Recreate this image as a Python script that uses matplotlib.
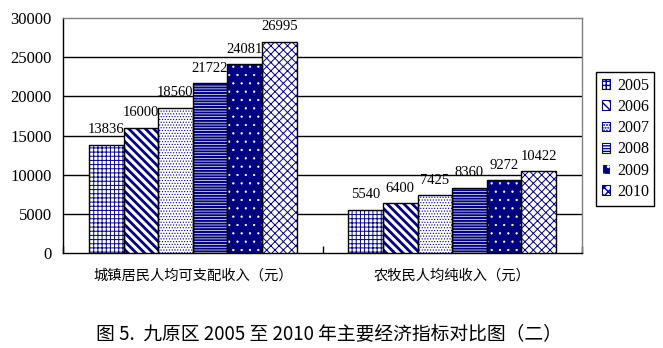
import matplotlib
matplotlib.use("Agg")
import matplotlib.pyplot as plt
from matplotlib.patches import Patch
import numpy as np

categories = ["城镇居民人均可支配收入（元）", "农牧民人均纯收入（元）"]
years = ["2005", "2006", "2007", "2008", "2009", "2010"]
values = {
    "2005": [13836, 5540],
    "2006": [16000, 6400],
    "2007": [18560, 7425],
    "2008": [21722, 8360],
    "2009": [24081, 9272],
    "2010": [26995, 10422],
}
yticks = [0, 5000, 10000, 15000, 20000, 25000, 30000]
title = "图 5.  九原区 2005 至 2010 年主要经济指标对比图（二）"

NAVY = "#000080"
styles = {
    "2005": dict(fc="white", hc=NAVY, hatch="++++", hlw=0.7),
    "2006": dict(fc="white", hc=NAVY, hatch="\\\\\\\\", hlw=2.0),
    "2007": dict(fc="white", hc=NAVY, hatch="......", hlw=0.5),
    "2008": dict(fc="white", hc=NAVY, hatch="------", hlw=1.5),
    "2009": dict(fc=NAVY, hc="white", hatch="..", hlw=0.4),
    "2010": dict(fc="white", hc=NAVY, hatch="xxxx", hlw=0.7),
}

serif = ["Liberation Serif", "DejaVu Serif"]
cjk = ["Noto Sans CJK SC", "DejaVu Sans"]

fig = plt.figure(figsize=(6.63, 3.48), dpi=100)
ax = fig.add_axes([63/663, 1-253/348, (582-63)/663, (253-18)/348])

x = np.arange(len(categories))
n = len(years)
group_w = 0.8
w = group_w / n
handles = []
for i, yr in enumerate(years):
    st = styles[yr]
    pos = x - group_w/2 + w*(i+0.5)
    with plt.rc_context({"hatch.linewidth": st["hlw"]}):
        bars = ax.bar(pos, values[yr], w, facecolor=st["fc"], edgecolor=st["hc"],
                      hatch=st["hatch"], linewidth=0, zorder=3)
        for b in bars:
            if hasattr(b, "set_hatch_linewidth"):
                b.set_hatch_linewidth(st["hlw"])
        ax.bar(pos, values[yr], w, fill=False, edgecolor="black", linewidth=1.0, zorder=4)
        h = Patch(facecolor=st["fc"], edgecolor=st["hc"], hatch=st["hatch"], linewidth=0.8)
        if hasattr(h, "set_hatch_linewidth"):
            h.set_hatch_linewidth(st["hlw"])
    handles.append(h)
    for xp, v in zip(pos, values[yr]):
        ax.annotate(str(v), (xp, v), xytext=(0, 6), textcoords="offset points",
                    ha="center", va="bottom", fontsize=10.5, family=serif,
                    annotation_clip=False)

ax.set_xlim(-0.5, len(categories) - 0.5)
ax.set_ylim(0, 30000)
ax.set_yticks(yticks)
ax.set_yticklabels([str(t) for t in yticks], family=serif, fontsize=12)
ax.yaxis.grid(True, color="black", linewidth=1.0, zorder=0)
gl = ax.yaxis.get_gridlines()
gl[0].set_visible(False)
gl[-1].set_visible(False)
ax.set_axisbelow(True)
ax.tick_params(axis="y", direction="in", length=0, pad=8)

ax.set_xticks(x)
ax.set_xticklabels(categories, family=cjk, fontsize=10.3)
ax.tick_params(axis="x", length=0, pad=11)
ax.set_xticks(np.arange(len(categories) + 1) - 0.5, minor=True)
ax.tick_params(axis="x", which="minor", direction="in", length=5, width=1, color="black")

ax.spines["left"].set_color("black")
ax.spines["bottom"].set_color("black")
ax.spines["top"].set_color("#808080")
ax.spines["right"].set_color("#808080")
for s in ax.spines.values():
    s.set_linewidth(1.0)

leg = fig.legend(handles, years, loc="upper left",
                 bbox_to_anchor=(596/663, 1-72/348), prop={"family": serif, "size": 11.5},
                 frameon=True, fancybox=False, edgecolor="black", framealpha=1,
                 handlelength=0.55, handleheight=0.55, handletextpad=0.4,
                 labelspacing=0.33, borderpad=0.35, borderaxespad=0)
leg.get_frame().set_linewidth(1.0)

fig.text(329/663, 1-335/348, title, ha="center", va="center", fontsize=13.5,
         family=cjk)

fig.savefig("out.png", dpi=100)
